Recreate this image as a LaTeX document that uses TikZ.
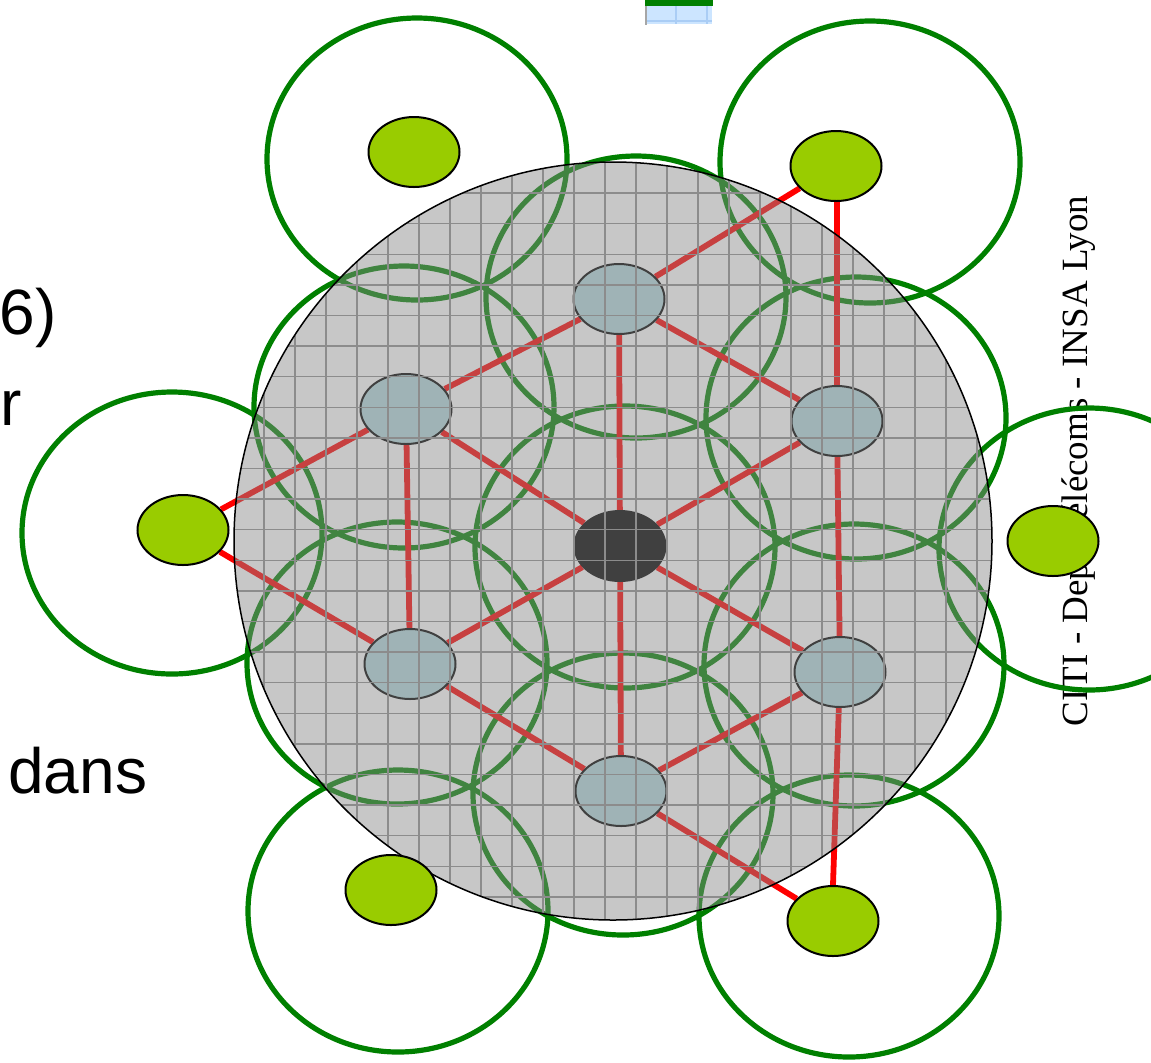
\documentclass[tikz,border=0pt]{standalone}
\usepackage{fontspec}
\setmainfont{Liberation Sans}
\newfontfamily\serifx{Liberation Serif}
\usetikzlibrary{shapes.geometric}
\definecolor{leafgreen}{RGB}{153,204,0}
\definecolor{ringgreen}{RGB}{0,128,0}
\definecolor{innerfill}{RGB}{180,218,222}
\definecolor{veilgrey}{RGB}{137,137,137}
\definecolor{gridgrey}{RGB}{140,140,140}
\definecolor{paleblue}{RGB}{204,229,255}
\definecolor{paleline}{RGB}{170,205,245}
\pgfdeclarelayer{txt}
\pgfdeclarelayer{edges}
\pgfdeclarelayer{rings}
\pgfdeclarelayer{veil}
\pgfdeclarelayer{front}
\pgfsetlayers{txt,rings,edges,main,veil,front}
\tikzset{
  ring/.style={ellipse, draw=ringgreen, line width=2.6pt, minimum width=150pt, minimum height=141pt, inner sep=0pt},
  innernode/.style={ellipse, draw=black, line width=1pt, fill=innerfill, minimum width=45.5pt, minimum height=35pt, inner sep=0pt},
  hubnode/.style={innernode, fill=black},
  leaf/.style={ellipse, draw=black, line width=1pt, fill=leafgreen, minimum width=45.5pt, minimum height=35pt, inner sep=0pt},
  link/.style={draw=red, line width=2.9pt},
  gridline/.style={draw=gridgrey, line width=0.7pt},
  slidetext/.style={font=\fontsize{32pt}{38pt}\selectfont, inner sep=0pt},
}
\begin{document}
\begin{tikzpicture}[x=0.5pt,y=-0.5pt]
\useasboundingbox (0,0) rectangle (1151,1062);
\clip (0,0) rectangle (1151,1062);

% slide text fragments
\begin{pgfonlayer}{txt}
\node[slidetext, anchor=base east] (t1) at (57,334) {6)};
\node[slidetext, anchor=base east] (t2) at (22,425) {r};
\node[slidetext, anchor=base west] (t3) at (8,793) {dans};
\node[font=\serifx\fontsize{18.5pt}{20pt}\selectfont, rotate=90, inner sep=0pt] (brand) at (1079,461) {CITI - Dept Télécoms - INSA Lyon};
% clipped object at the top
\fill[paleblue] (645,6) rectangle (712,24);
\draw[paleline, line width=0.6pt] (676,6) -- (676,24) (707,6) -- (707,24) (645,21) -- (712,21);
\fill[gray!70] (645,6) rectangle (647,25);
\fill[ringgreen] (645,0) rectangle (713,6);
\end{pgfonlayer}

% inner nodes
\node[hubnode]   (hub) at (620,546) {};
\node[innernode] (nT)  at (619,299) {};
\node[innernode] (nUL) at (406,409) {};
\node[innernode] (nUR) at (837,421) {};
\node[innernode] (nLL) at (410,664) {};
\node[innernode] (nLR) at (840,672) {};
\node[innernode] (nB)  at (621,791) {};

% outer nodes
\begin{pgfonlayer}{front}
\node[leaf] (oTL) at (414,152) {};
\node[leaf] (oTR) at (836,166) {};
\node[leaf] (oL)  at (183,530) {};
\node[leaf] (oR)  at (1053,541) {};
\node[leaf] (oBL) at (391,890) {};
\node[leaf] (oBR) at (833,921) {};
\end{pgfonlayer}

% rings
\begin{pgfonlayer}{rings}
\node[ring] (rTL) at (417,159) {};
\node[ring] (rTR) at (870,162) {};
\node[ring] (rL)  at (172,533) {};
\node[ring] (rR)  at (1089,549) {};
\node[ring] (rBL) at (398,911) {};
\node[ring] (rBR) at (849,916) {};
\node[ring] (rT)  at (636,297) {};
\node[ring] (rUL) at (404,407) {};
\node[ring] (rUR) at (856,418) {};
\node[ring] (rC)  at (625,547) {};
\node[ring] (rLL) at (397,663) {};
\node[ring] (rLR) at (854,665) {};
\node[ring] (rB)  at (623,794) {};
\end{pgfonlayer}

% links
\begin{pgfonlayer}{edges}
\foreach \n in {nT,nUL,nUR,nLL,nLR,nB} \draw[link] (hub) -- (\n);
\draw[link] (nT) -- (nUL);
\draw[link] (nT) -- (nUR);
\draw[link] (nUL) -- (nLL);
\draw[link] (nUR) -- (nLR);
\draw[link] (nLL) -- (nB);
\draw[link] (nLR) -- (nB);
\draw[link] (oL) -- (nUL);
\draw[link] (oL) -- (nLL);
\draw[link] (oTR) -- (nT);
\draw[link] (oTR.south -| nUR) -- (nUR);
\draw[link] (oBR) -- (nB);
\draw[link] (oBR.north) -- (nLR);
\end{pgfonlayer}

% grey disc with grid
\begin{pgfonlayer}{veil}
\fill[veilgrey, fill opacity=0.47] (613,541) circle [radius=189.5pt];
\begin{scope}
\clip (613,541) circle [radius=189.5pt];
\draw[gridline, shift={(605,499)}, xstep=15.5pt, ystep=15.3pt] (-420,-380) grid (420,440);
\end{scope}
\draw[black, line width=0.75pt] (613,541) circle [radius=189.5pt];
\end{pgfonlayer}
\end{tikzpicture}
\end{document}
